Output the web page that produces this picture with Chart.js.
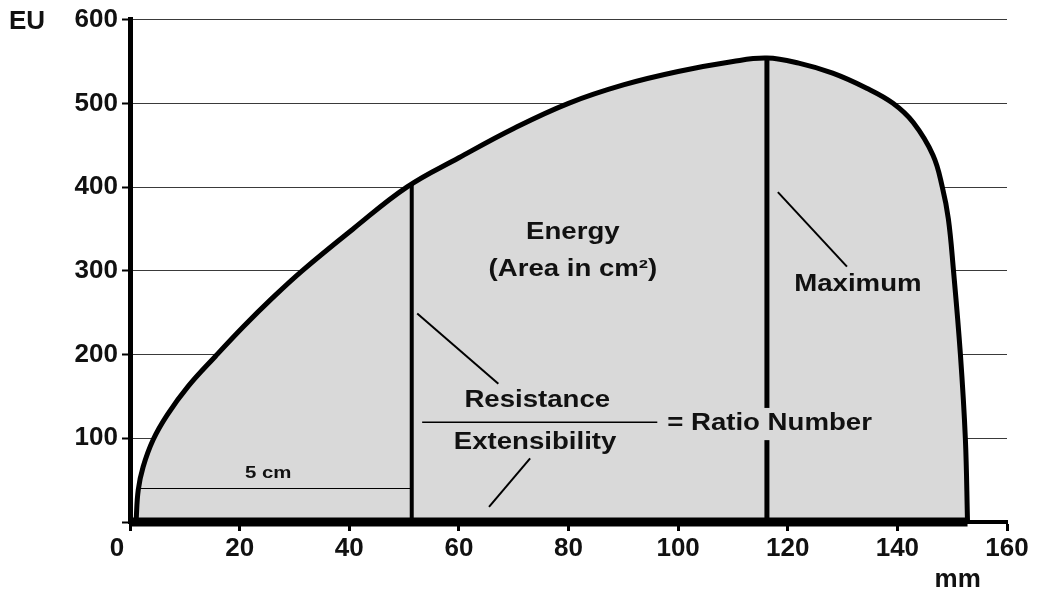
<!DOCTYPE html>
<html>
<head>
<meta charset="utf-8">
<script src="https://cdn.jsdelivr.net/npm/chart.js@4.4.0/dist/chart.umd.min.js"></script>
<style>
  html, body { margin: 0; padding: 0; background: #fff; }
  #wrap { width: 1046px; height: 599px; }
</style>
</head>
<body>
<div id="wrap"><canvas id="chart"></canvas></div>
<script>
// extensogram curve (mm / EU)
const curveX = [1.1, 1.5, 2.4, 4.2, 6.8, 10.6, 15.6, 20.8, 25.9, 31.4, 40.7, 50.5, 60, 70, 80, 90, 100, 110, 116.2, 122, 128.2, 134.4, 139.2, 142.9, 146.5, 148.2, 149.3, 150.2, 151.5, 152.4, 152.8];
const curveY = [0, 38, 66, 98, 128, 162, 198, 234, 267, 300, 350, 400, 435, 470, 500, 522, 538, 550, 554, 548, 536, 518, 500, 477, 438, 400, 362, 303, 200, 100, 0];

// marker lines
const baseX = [0, 152.8];
const baseY = [0, 0];
const resistanceX = [51.4, 51.4];
const resistanceY = [0, 403];
const maximumX = [116.2, 116.2];
const maximumY = [0, 554];
const fiveCmX = [1.5, 51.4];
const fiveCmY = [40, 40];

// leader lines + fraction bar
const resLeaderX = [52.4, 67.2];
const resLeaderY = [249, 165];
const extLeaderX = [73, 65.5];
const extLeaderY = [76, 18];
const maxLeaderX = [118.2, 130.8];
const maxLeaderY = [394, 305];
const fractionX = [53.3, 96.2];
const fractionY = [119, 119];

const xMin = 0, xMax = 160, xStep = 20;
const yMin = 0, yMax = 600, yStep = 100;

const FONT = '"Liberation Sans", Arial, sans-serif';
const FILL = '#d9d9d9';

function pts(xs, ys) {
  return xs.map((x, i) => ({ x: x, y: ys[i] }));
}

function lineSet(xs, ys, width, order) {
  return {
    data: pts(xs, ys),
    borderColor: '#000',
    borderWidth: width,
    pointRadius: 0,
    fill: false,
    clip: false,
    tension: 0,
    order: order,
  };
}

// text drawn slightly stretched like the original
function drawText(ctx, text, px, py, size, align, bg) {
  ctx.save();
  ctx.font = `bold ${size}px ${FONT}`;
  ctx.textBaseline = 'middle';
  ctx.textAlign = 'left';
  const w = ctx.measureText(text).width * 1.2;
  let left = px;
  if (align === 'center') left = px - w / 2;
  if (bg) {
    ctx.fillStyle = bg;
    ctx.fillRect(left - 2, py - size * 0.7, w + 4, size * 1.4);
  }
  ctx.translate(left, py);
  ctx.scale(1.2, 1);
  ctx.fillStyle = '#111';
  ctx.fillText(text, 0, 0);
  ctx.restore();
}

const notes = {
  id: 'notes',
  afterDatasetsDraw(chart) {
    const { ctx, scales: { x, y } } = chart;
    drawText(ctx, 'Energy', x.getPixelForValue(80.8), y.getPixelForValue(346), 23, 'center');
    drawText(ctx, '(Area in cm²)', x.getPixelForValue(80.8), y.getPixelForValue(301), 23, 'center');
    drawText(ctx, 'Resistance', x.getPixelForValue(74.3), y.getPixelForValue(145), 23, 'center');
    drawText(ctx, 'Extensibility', x.getPixelForValue(73.9), y.getPixelForValue(95), 23, 'center');
    drawText(ctx, '= Ratio Number', x.getPixelForValue(98), y.getPixelForValue(117), 23, 'left', FILL);
    drawText(ctx, 'Maximum', x.getPixelForValue(132.8), y.getPixelForValue(283), 23, 'center');
    drawText(ctx, '5 cm', x.getPixelForValue(25.2), y.getPixelForValue(58), 17, 'center');

    // axis units
    ctx.save();
    ctx.font = `bold 26px ${FONT}`;
    ctx.fillStyle = '#111';
    ctx.textBaseline = 'middle';
    ctx.textAlign = 'left';
    ctx.fillText('EU', 9, y.getPixelForValue(600) + 2);
    ctx.textAlign = 'center';
    ctx.fillText('mm', x.getPixelForValue(151), 580);
    ctx.restore();
  }
};

new Chart(document.getElementById('chart').getContext('2d'), {
  type: 'line',
  data: {
    datasets: [
      {
        data: pts(curveX, curveY),
        borderColor: '#000',
        borderWidth: 5,
        backgroundColor: FILL,
        fill: 'origin',
        pointRadius: 0,
        tension: 0.4,
        clip: false,
        order: 10,
      },
      lineSet(baseX, baseY, 9, 5),
      lineSet(resistanceX, resistanceY, 4, 4),
      lineSet(maximumX, maximumY, 5, 4),
      lineSet(fiveCmX, fiveCmY, 1.2, 4),
      lineSet(resLeaderX, resLeaderY, 2, 3),
      lineSet(extLeaderX, extLeaderY, 2, 3),
      lineSet(maxLeaderX, maxLeaderY, 2, 3),
      lineSet(fractionX, fractionY, 1.5, 3),
    ],
  },
  options: {
    responsive: true,
    maintainAspectRatio: false,
    animation: false,
    layout: { padding: { top: 16, right: 39, left: 0, bottom: 0 } },
    plugins: {
      legend: { display: false },
      tooltip: { enabled: false },
    },
    scales: {
      x: {
        type: 'linear',
        min: xMin,
        max: xMax,
        afterFit(scale) { scale.height = 77; },
        ticks: {
          stepSize: xStep,
          padding: 2,
          color: '#111',
          font: { family: FONT, weight: 'bold', size: 26 },
          callback: (v) => (v === 0 ? '0\u2002\u2002' : v),
        },
        grid: {
          drawOnChartArea: false,
          tickLength: 9,
          tickColor: '#000',
          tickWidth: 3,
        },
        border: { color: '#000', width: 4 },
      },
      y: {
        min: yMin,
        max: yMax,
        afterFit(scale) { scale.width = 130; },
        ticks: {
          stepSize: yStep,
          padding: 4,
          color: '#111',
          font: { family: FONT, weight: 'bold', size: 26 },
          callback: (v) => (v === 0 ? '' : v),
        },
        grid: {
          color: '#3a3a3a',
          lineWidth: 1,
          tickLength: 8,
          tickColor: '#000',
          tickWidth: 2,
        },
        border: { color: '#000', width: 5 },
      },
    },
  },
  plugins: [notes],
});
</script>
</body>
</html>
